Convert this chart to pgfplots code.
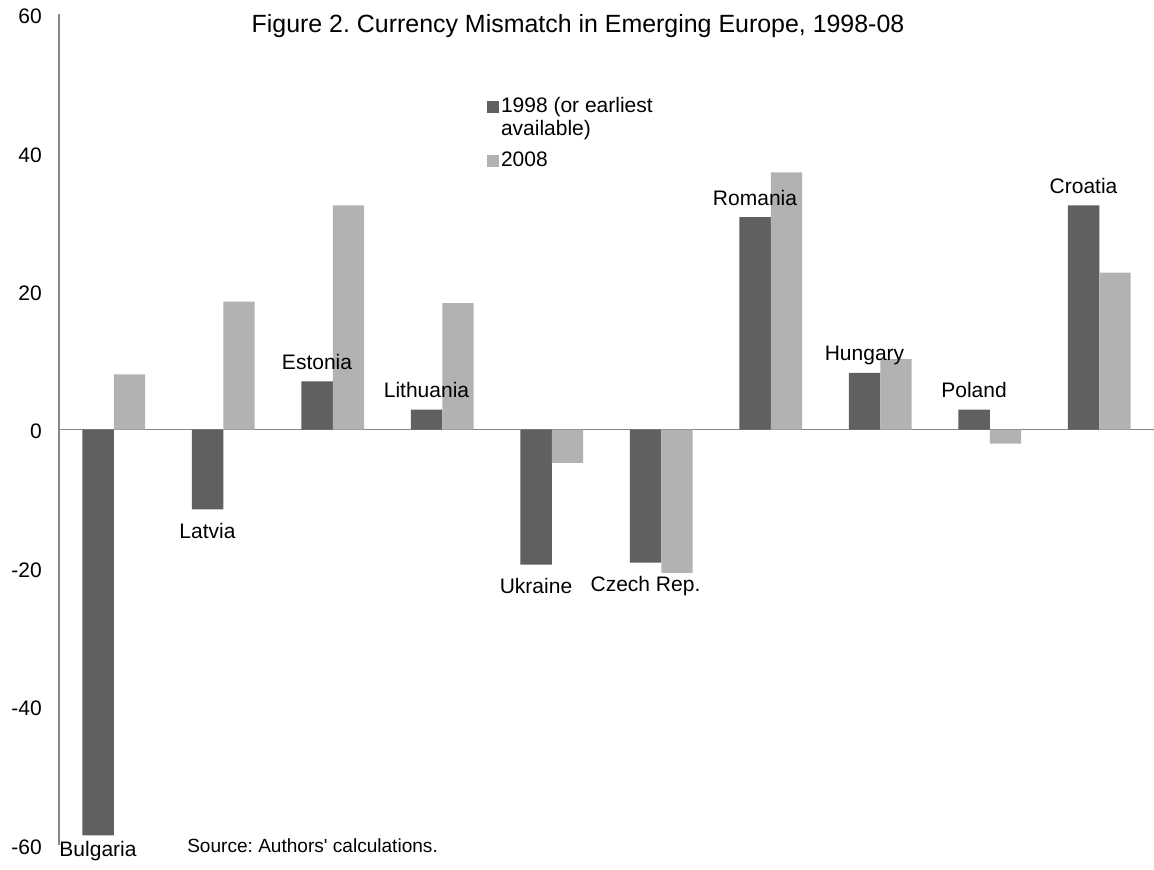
\documentclass[border=0pt]{standalone}
\usepackage{fontspec}
\setmainfont{Liberation Sans}
\usepackage{pgfplots}
\usepackage{pgfplotstable}
\pgfplotsset{compat=1.18}
\definecolor{darkbar}{HTML}{606060}
\definecolor{lightbar}{HTML}{B2B2B2}
\definecolor{axisgray}{HTML}{868686}
\frenchspacing

\pgfplotstableread{
x y1 y2 lab dy
0 -58.6 8.0 Bulgaria -16.0
1 -11.5 18.5 Latvia -21.8
2 7.0 32.4 Estonia 9
3 2.9 18.3 Lithuania 9
4 -19.5 -4.8 Ukraine -21.8
5 -19.2 -20.7 {Czech Rep.} -21.8
6 30.7 37.2 Romania 9
7 8.2 10.2 Hungary 9
8 2.9 -2.0 Poland 9
9 32.4 22.7 Croatia 9
}\data

\begin{document}
\begin{tikzpicture}[font=\fontsize{15.75}{17.5}\selectfont]
\path[use as bounding box] (0,0) rectangle (865.5pt,651.75pt);
\begin{axis}[
  at={(44.25pt,18pt)}, anchor=south west,
  scale only axis, width=821.25pt, height=622.9pt,
  xmin=-0.5, xmax=9.5, ymin=-60, ymax=60,
  ytick={-60,-40,...,60}, xtick=\empty,
  axis x line*=middle, axis y line*=left,
  hide obscured y ticks=false,
  axis line style={draw=axisgray, line width=1.1pt},
  major tick length=0pt,
  yticklabel style={inner sep=0pt, xshift=-12.75pt, yshift=-1.5pt, font=\fontsize{15.75}{17.5}\selectfont},
  /pgf/number format/assume math mode=true,
  ybar=0pt, bar width=23.6pt,
  clip=false,
  legend style={at={(0.3909,0.9015)}, anchor=north west, draw=none, fill=none,
    inner sep=0pt, outer sep=0pt, row sep=0pt, column sep=1.5pt,
    nodes={anchor=base west, inner sep=0pt, text height=12.25pt, text depth=5.25pt},
    font=\fontsize{15.75}{17.5}\selectfont},
]
\addplot[fill=darkbar, draw=none,
  legend image code/.code={\fill[darkbar] (0pt,-0.3pt) rectangle (9pt,8.7pt);},
  nodes near coords, point meta=explicit symbolic,
  visualization depends on={\thisrow{dy} \as \dy},
  every node near coord/.append style={font=\fontsize{15.75}{17.5}\selectfont, text=black,
    inner sep=0pt, anchor=base, yshift=\dy pt},
] table[x=x, y=y1, meta=lab] {\data};
\addlegendentry{1998 (or earliest}
\addlegendimage{empty legend}
\addlegendentry[text depth=10.75pt]{available)}
\addplot[fill=lightbar, draw=none,
  legend image code/.code={\fill[lightbar] (0pt,-0.3pt) rectangle (9pt,8.7pt);},
] table[x=x, y=y2] {\data};
\addlegendentry{2008}
\end{axis}
\node[anchor=base, font=\fontsize{18.7}{22}\selectfont] at (433.5pt,627.4pt)
  {Figure 2. Currency Mismatch in Emerging Europe, 1998-08};
\node[anchor=base west, inner sep=0pt, font=\fontsize{14.3}{17}\selectfont] at (140.25pt,12.4pt)
  {Source: Authors\textquotesingle{} calculations.};
\end{tikzpicture}
\end{document}
